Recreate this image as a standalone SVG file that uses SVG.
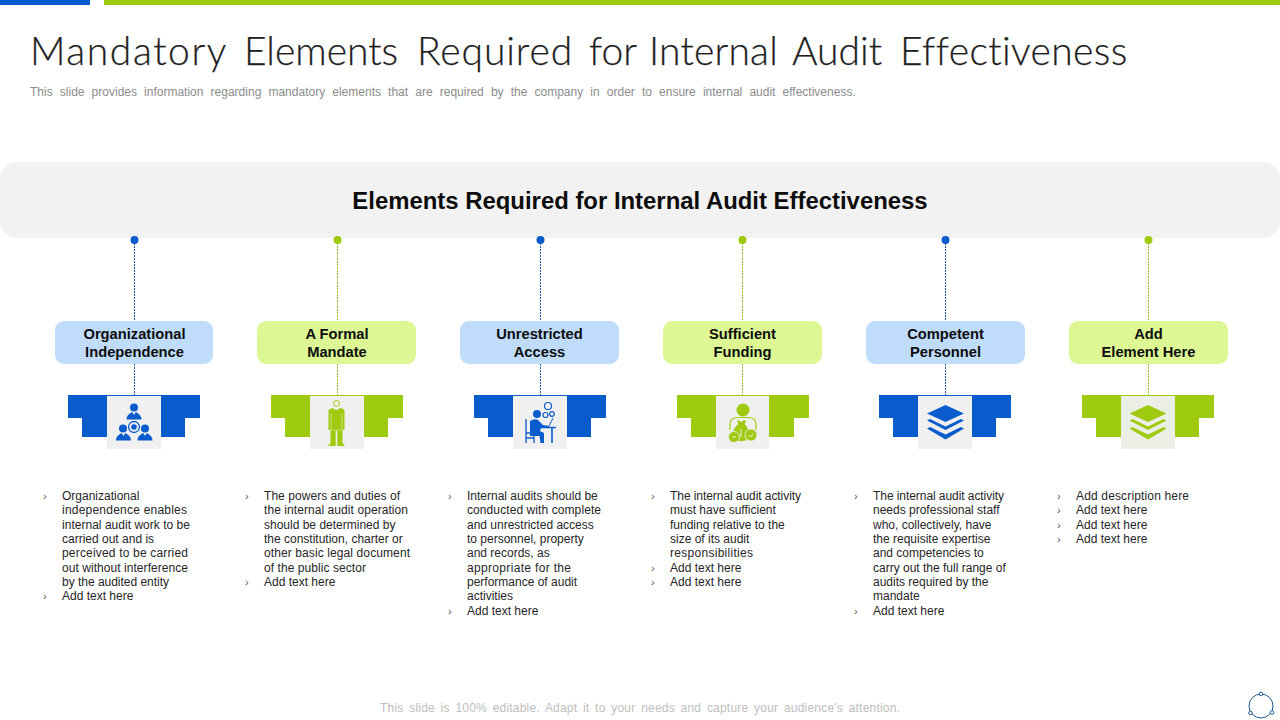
<svg xmlns="http://www.w3.org/2000/svg" width="1280" height="720" viewBox="0 0 1280 720">
<style>
text{font-family:"Liberation Sans",Arial,sans-serif}
.title{font-family:Lato,"Liberation Sans",sans-serif;font-weight:300;font-size:39px;fill:#1f1f1f;font-variant-ligatures:none;stroke:#1f1f1f;stroke-width:.25px}
.sub{font-size:12px;fill:#8c8c8c;word-spacing:3.8px}
.foot{font-size:12px;fill:#bdbdbd;word-spacing:2.2px;letter-spacing:.2px}
.head{font-size:23.900px;font-weight:700;fill:#0d0d0d;text-anchor:middle}
.lab{font-size:14.700px;font-weight:700;fill:#0d0d0d;text-anchor:middle}
.body{font-size:12px;fill:#262626}
.bul{font-size:11px;fill:#555}
.b{fill:#0a5ccc}.g{fill:#9ecb0f}
.lb{fill:#bfdcfb}.lg{fill:#dcf794}
.tile{fill:#f0f0f0}
.cb{stroke:#1d5ca6;stroke-width:1;stroke-dasharray:2 1;fill:none}
.cg{stroke:#98bd22;stroke-width:1;stroke-dasharray:2 1;fill:none}
</style>
<defs>
<path id="tee" d="M-66 0H66V23H51V42H-52V23H-66Z"/>
<path id="bust" d="M-7.500 7.500C-7.500 3-4 1.500-1.800 0L0 3 1.800 0C4 1.500 7.500 3 7.500 7.500Z"/>
<g id="layers"><path d="M0-18.500 18.500-10 0-1.500-18.500-10Z"/><path d="M-15.500-4.500-18.500-3 0 6.500 18.500-3 15.500-4.500 0 3Z"/><path d="M-15.500 3.500-18.500 5 0 16 18.500 5 15.500 3.500 0 11Z"/></g>
</defs>
<rect class="b" x="0" y="0" width="90" height="5"/>
<rect class="g" x="104" y="0" width="1176" height="5"/>
<text class="title" y="65"><tspan x="30" letter-spacing="1.600">Mandatory </tspan><tspan x="244">Elements </tspan><tspan x="417" letter-spacing=".9">Required </tspan><tspan x="589">for </tspan><tspan x="649" letter-spacing=".2">Internal </tspan><tspan x="792">Audit </tspan><tspan x="900" letter-spacing=".4">Effectiveness</tspan></text>
<text class="sub" x="30" y="96">This slide provides information regarding mandatory elements that are required by the company in order to ensure internal audit effectiveness.</text>
<g id="banner"><rect x="0" y="162" width="1280" height="76" rx="17" fill="#f2f2f2"/>
<text class="head" x="640" y="209">Elements Required for Internal Audit Effectiveness</text></g>
<g id="connectors">
<path class="cb" d="M134.500 240V321M134.500 364V395"/>
<path class="cg" d="M337.500 240V321M337.500 364V395"/>
<path class="cb" d="M540.500 240V321M540.500 364V395"/>
<path class="cg" d="M742.500 240V321M742.500 364V395"/>
<path class="cb" d="M945.500 240V321M945.500 364V395"/>
<path class="cg" d="M1148.500 240V321M1148.500 364V395"/>
<circle class="b" cx="134.500" cy="240" r="4"/><circle class="g" cx="337.500" cy="240" r="4"/><circle class="b" cx="540.500" cy="240" r="4"/><circle class="g" cx="742.500" cy="240" r="4"/><circle class="b" cx="945.500" cy="240" r="4"/><circle class="g" cx="1148.500" cy="240" r="4"/>
</g>
<g id="node1">
<rect class="lb" x="55" y="321" width="158" height="43" rx="9"/>
<text class="lab" x="134.500" y="339">Organizational</text><text class="lab" x="134.500" y="357">Independence</text>
<use href="#tee" class="b" x="134" y="395"/><rect class="tile" x="107" y="396" width="54" height="53"/>
<g class="b"><circle cx="134" cy="407.500" r="4"/><use href="#bust" x="134" y="412"/><circle cx="123" cy="428.500" r="4"/><use href="#bust" x="123.500" y="433"/><circle cx="145" cy="428.500" r="4"/><use href="#bust" x="145" y="433"/><circle cx="134" cy="427" r="2.800"/></g>
<circle cx="134" cy="427" r="5.500" fill="none" stroke="#0a5ccc" stroke-width="1.300"/>
<text class="bul" x="43" y="500">›</text>
<text class="body" x="62" y="500">Organizational</text><text class="body" x="62" y="514" textLength="125">independence enables</text><text class="body" x="62" y="528.500" textLength="128">internal audit work to be</text><text class="body" x="62" y="543">carried out and is</text><text class="body" x="62" y="557" textLength="126">perceived to be carried</text><text class="body" x="62" y="571.500" textLength="126">out without interference</text><text class="body" x="62" y="586" textLength="107">by the audited entity</text>
<text class="bul" x="43" y="600">›</text><text class="body" x="62" y="600">Add text here</text>
</g>
<g id="node2">
<rect class="lg" x="257" y="321" width="159" height="43" rx="9"/>
<text class="lab" x="337" y="339">A Formal</text><text class="lab" x="337" y="357">Mandate</text>
<use href="#tee" class="g" x="337" y="395"/><rect class="tile" x="310" y="396" width="54" height="53"/>
<circle cx="336.500" cy="403.500" r="3" fill="none" stroke="#9ecb0f" stroke-width="1"/>
<path class="g" d="M332 408L336.500 410 341 408 344.500 410V430H342.500V443L344.500 445V446H337.300V431H335.700V446H328.500V445L330.500 443V430H328.500V410Z"/>
<path d="M331 413V430M342 413V430M331 430H342" stroke="#dcebaa" stroke-width=".7" fill="none"/>
<text class="bul" x="245" y="500">›</text>
<text class="body" x="264" y="500" textLength="136">The powers and duties of</text><text class="body" x="264" y="514" textLength="144">the internal audit operation</text><text class="body" x="264" y="528.500">should be determined by</text><text class="body" x="264" y="543">the constitution, charter or</text><text class="body" x="264" y="557" textLength="146">other basic legal document</text><text class="body" x="264" y="571.500" textLength="102">of the public sector</text>
<text class="bul" x="245" y="586">›</text><text class="body" x="264" y="586">Add text here</text>
</g>
<g id="node3">
<rect class="lb" x="460" y="321" width="159" height="43" rx="9"/>
<text class="lab" x="539.500" y="339">Unrestricted</text><text class="lab" x="539.500" y="357">Access</text>
<use href="#tee" class="b" x="540" y="395"/><rect class="tile" x="513" y="396" width="54" height="53"/>
<g fill="none" stroke="#0a5ccc"><circle cx="548" cy="406" r="3.500" stroke-width="1.200"/><circle cx="545.500" cy="415" r="2.500" stroke-width="1.200"/><circle cx="552" cy="414" r="2.300" stroke-width="1.200"/><path d="M526 419V443M526 433H535M534 433V443M526 438H534" stroke-width="1.300"/><path d="M536 427.500H556M552 427.500V443" stroke-width="1.600"/><path d="M549 426L553 418" stroke-width="1"/></g>
<circle class="b" cx="537" cy="414" r="4"/>
<path class="b" d="M530 421Q534 418 538 420L543 425 549 426 549 428H541L540 431 544 433V443H540.500L539.500 436H530Z"/>
<text class="bul" x="448" y="500">›</text>
<text class="body" x="467" y="500">Internal audits should be</text><text class="body" x="467" y="514" textLength="134">conducted with complete</text><text class="body" x="467" y="528.500">and unrestricted access</text><text class="body" x="467" y="543">to personnel, property</text><text class="body" x="467" y="557">and records, as</text><text class="body" x="467" y="571.500" textLength="104">appropriate for the</text><text class="body" x="467" y="586">performance of audit</text><text class="body" x="467" y="600">activities</text>
<text class="bul" x="448" y="615">›</text><text class="body" x="467" y="615">Add text here</text>
</g>
<g id="node4">
<rect class="lg" x="663" y="321" width="159" height="43" rx="9"/>
<text class="lab" x="742.500" y="339">Sufficient</text><text class="lab" x="742.500" y="357">Funding</text>
<use href="#tee" class="g" x="743" y="395"/><rect class="tile" x="716" y="396" width="53" height="53"/>
<circle class="g" cx="743" cy="410" r="6.500"/>
<path d="M730 430V424Q730 418 737 417.500H749Q756 418 756 424V430" fill="none" stroke="#9ecb0f" stroke-width="1.200"/>
<path class="g" d="M738 420L741 422 744 420 746 421 744.500 424Q749 428 749 436L745 441H737L733 434Q733 428 738.500 424L737 421Z"/>
<circle class="g" cx="734" cy="437" r="5.500" stroke="#f0f0f0" stroke-width=".8"/><circle class="g" cx="751" cy="435" r="6" stroke="#f0f0f0" stroke-width=".8"/>
<path d="M748.500 435L750.500 437 753.500 433.500M732 437H736M741 429V437" fill="none" stroke="#f0f0f0" stroke-width="1"/>
<text class="bul" x="651" y="500">›</text>
<text class="body" x="670" y="500" textLength="131">The internal audit activity</text><text class="body" x="670" y="514">must have sufficient</text><text class="body" x="670" y="528.500">funding relative to the</text><text class="body" x="670" y="543">size of its audit</text><text class="body" x="670" y="557" textLength="83">responsibilities</text>
<text class="bul" x="651" y="571.500">›</text><text class="body" x="670" y="571.500">Add text here</text>
<text class="bul" x="651" y="586">›</text><text class="body" x="670" y="586">Add text here</text>
</g>
<g id="node5">
<rect class="lb" x="866" y="321" width="159" height="43" rx="9"/>
<text class="lab" x="945.500" y="339">Competent</text><text class="lab" x="945.500" y="357">Personnel</text>
<use href="#tee" class="b" x="945" y="395"/><rect class="tile" x="918" y="396" width="54" height="53"/>
<use href="#layers" class="b" x="945.500" y="423.500"/>
<text class="bul" x="854" y="500">›</text>
<text class="body" x="873" y="500" textLength="131">The internal audit activity</text><text class="body" x="873" y="514">needs professional staff</text><text class="body" x="873" y="528.500">who, collectively, have</text><text class="body" x="873" y="543">the requisite expertise</text><text class="body" x="873" y="557">and competencies to</text><text class="body" x="873" y="571.500">carry out the full range of</text><text class="body" x="873" y="586">audits required by the</text><text class="body" x="873" y="600">mandate</text>
<text class="bul" x="854" y="615">›</text><text class="body" x="873" y="615">Add text here</text>
</g>
<g id="node6">
<rect class="lg" x="1069" y="321" width="159" height="43" rx="9"/>
<text class="lab" x="1148.500" y="339">Add</text><text class="lab" x="1148.500" y="357">Element Here</text>
<use href="#tee" class="g" x="1148" y="395"/><rect x="1121" y="396" width="54" height="53" fill="#ecefe6"/>
<use href="#layers" class="g" x="1148" y="423.500"/>
<text class="bul" x="1057" y="500">›</text><text class="body" x="1076" y="500" textLength="113">Add description here</text>
<text class="bul" x="1057" y="514">›</text><text class="body" x="1076" y="514">Add text here</text>
<text class="bul" x="1057" y="528.500">›</text><text class="body" x="1076" y="528.500">Add text here</text>
<text class="bul" x="1057" y="543">›</text><text class="body" x="1076" y="543">Add text here</text>
</g>
<text class="foot" x="380" y="712">This slide is 100% editable. Adapt it to your needs and capture your audience's attention.</text>
<g id="badge" fill="#fff" stroke="#1f5c8f" stroke-width="1"><circle cx="1261" cy="706" r="12" fill="none"/><circle cx="1261" cy="694" r="1.800"/><circle cx="1250.500" cy="713" r="1.800"/><circle cx="1272" cy="712.500" r="1.800"/></g>
</svg>
